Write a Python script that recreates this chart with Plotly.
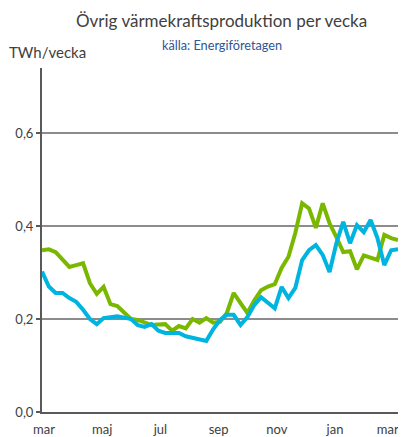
import plotly.graph_objects as go

weeks = list(range(53))
green = [0.348, 0.35, 0.344, 0.327, 0.312, 0.316, 0.32, 0.277, 0.254, 0.269,
         0.232, 0.228, 0.213, 0.2, 0.198, 0.192, 0.187, 0.188, 0.189, 0.175,
         0.185, 0.18, 0.2, 0.192, 0.202, 0.192, 0.194, 0.213, 0.256, 0.234,
         0.213, 0.24, 0.262, 0.27, 0.275, 0.31, 0.334, 0.385, 0.449, 0.438,
         0.396, 0.449, 0.406, 0.376, 0.344, 0.346, 0.307, 0.337, 0.331, 0.327,
         0.381, 0.374, 0.37]
blue = [0.302, 0.27, 0.256, 0.256, 0.245, 0.237, 0.22, 0.2, 0.189, 0.202,
        0.204, 0.206, 0.203, 0.2, 0.187, 0.183, 0.189, 0.175, 0.17, 0.17,
        0.17, 0.163, 0.16, 0.156, 0.153, 0.178, 0.198, 0.209, 0.209, 0.187,
        0.204, 0.23, 0.247, 0.235, 0.223, 0.269, 0.245, 0.267, 0.327, 0.348,
        0.359, 0.338, 0.301, 0.363, 0.409, 0.363, 0.402, 0.387, 0.413, 0.374,
        0.316, 0.348, 0.35]
month_pos = [0.3, 8.8, 17.3, 25.8, 34.3, 42.8, 50.5]
month_labels = ["mar", "maj", "jul", "sep", "nov", "jan", "mar"]
y_ticks = [0.0, 0.2, 0.4, 0.6]

FONT = "Lato"
fig = go.Figure()
fig.add_trace(go.Scatter(x=weeks, y=green, mode="lines",
                         line=dict(color="#7ab800", width=4), showlegend=False))
fig.add_trace(go.Scatter(x=weeks, y=blue, mode="lines",
                         line=dict(color="#00b4e0", width=4), showlegend=False))

fig.update_layout(
    width=390, height=429,
    margin=dict(l=34, r=0, t=60, b=25, autoexpand=False),
    paper_bgcolor="white", plot_bgcolor="white",
    separators=", ",
    font=dict(family=FONT, color="#404040", size=13),
    showlegend=False,
)
fig.update_xaxes(range=[0, 52], tickvals=month_pos, ticktext=month_labels,
                 showgrid=False, showline=True, linecolor="#595959", linewidth=2,
                 ticks="", zeroline=False, tickfont=dict(size=13),
                 automargin=False, ticklabeloverflow="allow", ticklabelstandoff=4)
fig.update_yaxes(range=[0, 0.74], tickvals=y_ticks, tickformat=".1f",
                 showgrid=True, gridcolor="#8c8c8c", gridwidth=1.5,
                 showline=True, linecolor="#595959", linewidth=2,
                 ticks="outside", ticklen=4, tickcolor="#595959", tickwidth=2,
                 zeroline=False, tickfont=dict(size=13), automargin=False)

fig.add_annotation(text="Övrig värmekraftsproduktion per vecka", xref="paper", yref="paper",
                   x=0.505, y=1, yshift=48, showarrow=False, xanchor="center", yanchor="middle",
                   font=dict(size=17, color="#404040", family=FONT))
fig.add_annotation(text="källa: Energiföretagen", xref="paper", yref="paper",
                   x=0.505, y=1, yshift=23, showarrow=False, xanchor="center", yanchor="middle",
                   font=dict(size=12.7, color="#2e5597", family=FONT))
fig.add_annotation(text="TWh/vecka", xref="paper", yref="paper",
                   x=0, xshift=-35, y=1, yshift=16, showarrow=False, xanchor="left", yanchor="middle",
                   font=dict(size=15, color="#404040", family=FONT))

fig.write_html("out.html")
